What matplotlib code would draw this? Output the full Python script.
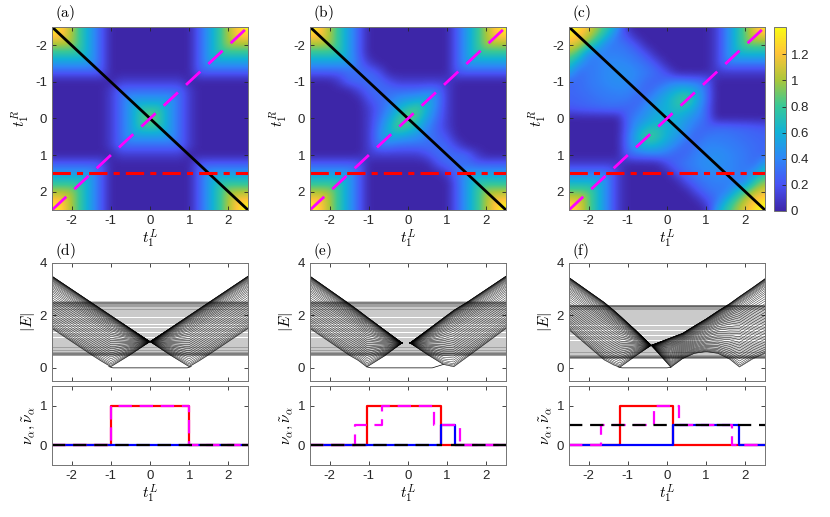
import numpy as np
import matplotlib
matplotlib.use('Agg')
import matplotlib.pyplot as plt
from matplotlib.colors import LinearSegmentedColormap

plt.rcParams['font.family'] = ['Liberation Sans', 'DejaVu Sans']
plt.rcParams['mathtext.fontset'] = 'cm'
plt.rcParams['axes.unicode_minus'] = False

# parula-like colour steps
parula_rgb = [(0.2422, 0.1504, 0.6603), (0.2810, 0.3228, 0.9579),
              (0.1786, 0.5289, 0.9682), (0.0689, 0.6948, 0.8394),
              (0.2161, 0.7843, 0.5923), (0.6720, 0.7793, 0.2227),
              (0.9970, 0.7659, 0.2199), (0.9769, 0.9839, 0.0805)]
parula = LinearSegmentedColormap.from_list('parula', parula_rgb)

# ---------------- data: gap maps (rows = t1R from -2.5 to 0, cols = t1L) ----------------
t_grid = [-2.5, -2.25, -2.0, -1.75, -1.5, -1.25, -1.0, -0.75, -0.5, -0.25, 0.0,
          0.25, 0.5, 0.75, 1.0, 1.25, 1.5, 1.75, 2.0, 2.25, 2.5]

gap_a_top = [
    [1.5, 1.25, 1.0, .75, .5, .25, 0, 0, 0, 0, 0, 0, 0, 0, 0, .25, .5, .75, 1.0, 1.25, 1.5],
    [1.25, 1.25, 1.0, .75, .5, .25, 0, 0, 0, 0, 0, 0, 0, 0, 0, .25, .5, .75, 1.0, 1.25, 1.25],
    [1.0, 1.0, 1.0, .75, .5, .25, 0, 0, 0, 0, 0, 0, 0, 0, 0, .25, .5, .75, 1.0, 1.0, 1.0],
    [.75, .75, .75, .75, .5, .25, 0, 0, 0, 0, 0, 0, 0, 0, 0, .25, .5, .75, .75, .75, .75],
    [.5, .5, .5, .5, .5, .25, 0, 0, 0, 0, 0, 0, 0, 0, 0, .25, .5, .5, .5, .5, .5],
    [.25, .25, .25, .25, .25, .25, 0, 0, 0, 0, 0, 0, 0, 0, 0, .25, .25, .25, .25, .25, .25],
    [0, 0, 0, 0, 0, 0, 0, .1, .1, .1, .1, .1, .1, .1, 0, 0, 0, 0, 0, 0, 0],
    [0, 0, 0, 0, 0, 0, .1, .3, .3, .3, .3, .3, .3, .3, .1, 0, 0, 0, 0, 0, 0],
    [0, 0, 0, 0, 0, 0, .1, .3, .5, .5, .5, .5, .5, .3, .1, 0, 0, 0, 0, 0, 0],
    [0, 0, 0, 0, 0, 0, .1, .3, .5, .75, .75, .75, .5, .3, .1, 0, 0, 0, 0, 0, 0],
    [0, 0, 0, 0, 0, 0, .1, .3, .5, .75, 1.0, .75, .5, .3, .1, 0, 0, 0, 0, 0, 0],
]

gap_b_top = [
    [1.5, 1.25, 1.0, .75, .5, .25, 0, 0, 0, 0, 0, 0, 0, 0, 0, .25, .5, .75, 1.0, 1.25, 1.5],
    [1.25, 1.25, 1.0, .75, .5, .25, 0, 0, 0, 0, 0, 0, 0, 0, 0, .25, .5, .75, 1.0, 1.25, 1.25],
    [1.0, 1.0, 1.0, .75, .5, .25, 0, 0, 0, 0, 0, 0, 0, 0, 0, .25, .5, .75, 1.0, 1.0, 1.0],
    [.75, .75, .75, .75, .5, .25, 0, 0, 0, 0, 0, 0, 0, 0, 0, .25, .5, .75, .75, .75, .75],
    [.5, .5, .5, .5, .5, .3, .1, 0, 0, 0, 0, 0, 0, 0, 0, .25, .5, .5, .5, .5, .5],
    [.25, .25, .25, .25, .3, .3, .3, .2, 0, 0, 0, 0, 0, 0, 0, .25, .25, .25, .25, .25, .25],
    [0, 0, 0, .1, .3, .3, .3, .3, .2, .1, .1, .1, .1, .1, .1, 0, 0, 0, 0, 0, 0],
    [0, 0, 0, 0, 0, .15, .28, .3, .3, .3, .3, .3, .35, .35, .1, 0, 0, 0, 0, 0, 0],
    [0, 0, 0, 0, 0, 0, .2, .28, .35, .45, .5, .55, .6, .4, .1, 0, 0, 0, 0, 0, 0],
    [0, 0, 0, 0, 0, 0, .1, .25, .4, .6, .75, .85, .6, .35, .1, 0, 0, 0, 0, 0, 0],
    [0, 0, 0, 0, 0, 0, .1, .3, .5, .75, .95, .75, .5, .3, .1, 0, 0, 0, 0, 0, 0],
]

gap_c_top = [
    [1.45, 1.35, 1.15, .95, .75, .5, 0, 0, 0, 0, 0, 0, 0, 0, 0, .1, .37, .63, .89, 1.16, 1.42],
    [1.35, 1.25, 1.05, .85, .6, .3, .18, 0, 0, 0, 0, 0, 0, 0, 0, .1, .37, .63, .89, 1.16, 1.16],
    [1.15, 1.05, .85, .6, .35, .35, .3, .18, 0, 0, 0, 0, 0, 0, 0, .1, .37, .63, .89, .89, .89],
    [.95, .8, .4, .38, .38, .38, .35, .3, .18, 0, 0, 0, 0, 0, 0, .1, .37, .63, .63, .63, .63],
    [.75, .5, .35, .38, .42, .42, .4, .35, .3, .18, 0, 0, 0, 0, 0, .1, .37, .37, .37, .37, .37],
    [.55, .3, .35, .38, .42, .45, .45, .4, .35, .3, .18, 0, 0, 0, 0, .1, .1, .1, .1, .1, .1],
    [.28, .3, .35, .38, .42, .45, .42, .38, .3, .25, .32, .38, .35, .33, .28, 0, 0, 0, 0, 0, 0],
    [.28, .3, .33, .36, .38, .4, .4, .35, .25, .38, .5, .6, .65, .55, .33, 0, 0, 0, 0, 0, 0],
    [.27, .28, .3, .33, .35, .35, .35, .25, .38, .5, .6, .75, .85, .6, .33, 0, 0, 0, 0, 0, 0],
    [.22, .25, .27, .28, .3, .3, .25, .33, .45, .55, .6, .7, .65, .5, .28, 0, 0, 0, 0, 0, 0],
    [0, 0, 0, 0, 0, 0, .3, .4, .5, .6, .6, .6, .5, .4, .3, 0, 0, 0, 0, 0, 0],
]

cbar_ticks = [0, 0.2, 0.4, 0.6, 0.8, 1.0, 1.2]
cbar_labels = ['0', '0.2', '0.4', '0.6', '0.8', '1', '1.2']
gap_max = 1.41

line_t = [-2.5, 2.5]
cut_t1R = 1.5

# ---------------- data: spectra ----------------
flat_frac = [0.0, 0.004, 0.012, 0.025, 0.043, 0.065, 0.09, 0.12, 0.155, 0.19, 0.23,
             0.27, 0.31, 0.355, 0.4, 0.45, 0.5, 0.55, 0.6, 0.645, 0.69, 0.73, 0.77,
             0.81, 0.845, 0.88, 0.91, 0.935, 0.957, 0.975, 0.988, 0.996, 1.0]
fan_frac = [0.0, 0.01, 0.03, 0.055, 0.085, 0.12, 0.155, 0.19, 0.23, 0.27, 0.31, 0.35,
            0.39, 0.43, 0.47, 0.51, 0.55, 0.59, 0.63, 0.665, 0.70, 0.73, 0.76, 0.79,
            0.815, 0.84, 0.865, 0.885, 0.905, 0.92, 0.935, 0.95, 0.96, 0.97, 0.978,
            0.985, 0.991, 0.995, 0.998, 1.0]

# (d)
flat_d = (0.5, 2.5)
fanL_d_t = [-2.5, -1.5, -1.25, -1.0, -0.75, -0.5, 0.0]
fanL_d_lo = [1.5, 0.5, 0.26, 0.04, 0.27, 0.5, 1.0]
fanL_d_hi = [3.5, 2.5, 2.25, 2.0, 1.75, 1.5, 1.0]
fanR_d_t = [0.0, 0.5, 0.75, 1.0, 1.25, 1.5, 2.5]
fanR_d_lo = [1.0, 0.5, 0.27, 0.04, 0.26, 0.5, 1.5]
fanR_d_hi = [1.0, 1.5, 1.75, 2.0, 2.25, 2.5, 3.5]
edge_d_t = [-1.05, -0.95, 0.95, 1.05]
edge_d_e = [0.05, 0.0, 0.0, 0.05]

# (e)
flat_e = (0.5, 2.5)
fanL_e_t = [-2.5, -1.5, -1.27, -1.05, -0.6, -0.15]
fanL_e_lo = [1.5, 0.48, 0.28, 0.03, 0.45, 0.95]
fanL_e_hi = [3.5, 2.45, 2.2, 1.95, 1.45, 0.95]
fanR_e_t = [0.05, 0.5, 0.9, 1.17, 1.5, 2.5]
fanR_e_lo = [0.95, 0.5, 0.13, 0.04, 0.4, 1.5]
fanR_e_hi = [0.95, 1.45, 1.9, 2.2, 2.5, 3.5]
edge_e_t = [-1.05, -0.95, 0.62, 0.75, 0.9]
edge_e_e = [0.04, 0.0, 0.0, 0.06, 0.13]

# (f)
flat_f = (0.38, 2.37)
fanL_f_t = [-2.5, -1.6, -1.35, -1.2, -0.8, -0.4]
fanL_f_lo = [1.45, 0.3, 0.1, 0.02, 0.45, 0.86]
fanL_f_hi = [3.45, 2.5, 2.19, 1.99, 1.44, 0.86]
fanR_f_t = [-0.4, 0.1, 0.4, 0.7, 1.0, 1.3, 1.6, 1.85, 2.2, 2.5]
fanR_f_lo = [0.86, 0.02, 0.35, 0.55, 0.62, 0.55, 0.33, 0.03, 0.35, 0.55]
fanR_f_hi = [0.86, 1.15, 1.32, 1.6, 1.87, 2.17, 2.45, 2.72, 3.08, 3.4]
edge_f_t = [-1.25, -1.15, 0.0, 0.1]
edge_f_e = [0.04, 0.0, 0.0, 0.02]

# ---------------- data: winding numbers ----------------
nu_d = {
    'red': ([-2.5, -1, -1, 1, 1, 2.5], [0, 0, 1, 1, 0, 0]),
    'blue': ([-2.5, 2.5], [0, 0]),
    'mag': ([-2.5, -1, -1, 1, 1, 2.5], [0, 0, 1, 1, 0, 0]),
    'black': ([-2.5, 2.5], [0, 0]),
}
nu_e = {
    'red': ([-2.5, -1.05, -1.05, 0.83, 0.83, 2.5], [0, 0, 1, 1, 0, 0]),
    'blue': ([-2.5, 0.83, 0.83, 1.2, 1.2, 2.5], [0, 0, 0.5, 0.5, 0, 0]),
    'mag': ([-2.5, -1.34, -1.34, -0.66, -0.66, 0.66, 0.66, 1.32, 1.32, 2.5],
            [0, 0, 0.5, 0.5, 1, 1, 0.5, 0.5, 0, 0]),
    'black': ([-2.5, 0.87, np.nan, 1.1, 2.5], [0, 0, np.nan, 0, 0]),
}
nu_f = {
    'red': ([-2.5, -1.2, -1.2, 0.16, 0.16, 2.5], [0, 0, 1, 1, 0, 0]),
    'blue': ([-2.5, 0.16, 0.16, 1.84, 1.84, 2.5], [0, 0, 0.5, 0.5, 0, 0]),
    'mag': ([-2.5, -1.69, -1.69, -0.33, -0.33, 0.32, 0.32, 1.67, 1.67, 2.5],
            [0, 0, 0.5, 0.5, 1, 1, 0.5, 0.5, 0, 0]),
    'black': ([-2.5, 2.5], [0.5, 0.5]),
}

# ---------------- figure ----------------
fig = plt.figure(figsize=(8.3, 5.17), dpi=100)

lefts = [0.0627, 0.3735, 0.6855]
width = 0.2361
tick_fs = 9.5
lab_fs = 11
frame_col = '0.45'


def style(ax):
    ax.tick_params(direction='in', top=True, right=True, length=3, width=0.6,
                   labelsize=tick_fs, colors='0.15')
    for s in ax.spines.values():
        s.set_color(frame_col)
        s.set_linewidth(0.7)


def full_map(top):
    top = np.array(top, dtype=float)
    return np.vstack([top, top[-2::-1, ::-1]])


step = t_grid[1] - t_grid[0]
ext = [t_grid[0] - step / 2, t_grid[-1] + step / 2, t_grid[-1] + step / 2, t_grid[0] - step / 2]

maps = [gap_a_top, gap_b_top, gap_c_top]
names = ['(a)', '(b)', '(c)']
im = None
for k in range(3):
    ax = fig.add_axes([lefts[k], 0.5938, width, 0.354])
    im = ax.imshow(full_map(maps[k]), extent=ext, origin='upper', cmap=parula,
                   vmin=0, vmax=gap_max, interpolation='bicubic',
                   interpolation_stage='data', aspect='auto')
    ax.plot(line_t, line_t, color='k', lw=2)
    ax.plot(line_t, [-v for v in line_t], color=(1, 0, 1), lw=2, dashes=(7, 4))
    ax.plot(line_t, [cut_t1R, cut_t1R], color=(1, 0, 0), lw=2.2, dashes=(6, 2, 2, 2))
    ax.set_xlim(-2.5, 2.5)
    ax.set_ylim(2.5, -2.5)
    ax.set_xticks([-2, -1, 0, 1, 2])
    ax.set_yticks([-2, -1, 0, 1, 2])
    style(ax)
    ax.set_xlabel(r'$t_1^L$', fontsize=lab_fs, labelpad=1)
    ax.set_ylabel(r'$t_1^R$', fontsize=lab_fs, labelpad=2)
    ax.text(0.015, 1.02, r'$\mathrm{' + names[k] + '}$', transform=ax.transAxes,
            fontsize=lab_fs, ha='left', va='bottom')

cax = fig.add_axes([0.9325, 0.5919, 0.0145, 0.3559])
cb = fig.colorbar(im, cax=cax, ticks=cbar_ticks)
cb.ax.set_yticklabels(cbar_labels)
cb.ax.tick_params(direction='in', length=3, width=0.6, labelsize=tick_fs, colors='0.15')
cb.outline.set_edgecolor(frame_col)
cb.outline.set_linewidth(0.7)

spectra = [
    (flat_d, [(fanL_d_t, fanL_d_lo, fanL_d_hi), (fanR_d_t, fanR_d_lo, fanR_d_hi)], edge_d_t, edge_d_e),
    (flat_e, [(fanL_e_t, fanL_e_lo, fanL_e_hi), (fanR_e_t, fanR_e_lo, fanR_e_hi)], edge_e_t, edge_e_e),
    (flat_f, [(fanL_f_t, fanL_f_lo, fanL_f_hi), (fanR_f_t, fanR_f_lo, fanR_f_hi)], edge_f_t, edge_f_e),
]
nus = [nu_d, nu_e, nu_f]
names2 = ['(d)', '(e)', '(f)']

for k in range(3):
    ax = fig.add_axes([lefts[k], 0.2631, width, 0.2282])
    (flo, fhi), fans, et, ee = spectra[k]
    levels = flo + (fhi - flo) * np.array(flat_frac)
    ax.hlines(levels, -2.5, 2.5, color='k', lw=0.3)
    for t, lo, hi in fans:
        t, lo, hi = np.array(t), np.array(lo), np.array(hi)
        for f in fan_frac:
            ax.plot(t, lo + f * (hi - lo), color='k', lw=0.3)
    ax.plot(et, ee, color='k', lw=0.5)
    ax.set_xlim(-2.5, 2.5)
    ax.set_ylim(-0.5, 4)
    ax.set_xticks([-2, -1, 0, 1, 2])
    ax.set_xticklabels([])
    ax.set_yticks([0, 2, 4])
    style(ax)
    ax.set_ylabel(r'$|E|$', fontsize=lab_fs, labelpad=2)
    ax.text(0.015, 1.02, r'$\mathrm{' + names2[k] + '}$', transform=ax.transAxes,
            fontsize=lab_fs, ha='left', va='bottom')

    ax2 = fig.add_axes([lefts[k], 0.1006, width, 0.1528])
    nu = nus[k]
    ax2.plot(*nu['red'], color=(1, 0, 0), lw=1.6)
    ax2.plot(*nu['blue'], color=(0, 0, 1), lw=1.6)
    ax2.plot(*nu['mag'], color=(1, 0, 1), lw=1.6, dashes=(6, 3.5))
    ax2.plot(*nu['black'], color='k', lw=1.6, dashes=(6, 3.5))
    ax2.set_xlim(-2.5, 2.5)
    ax2.set_ylim(-0.5, 1.5)
    ax2.set_xticks([-2, -1, 0, 1, 2])
    ax2.set_yticks([0, 1])
    style(ax2)
    ax2.set_xlabel(r'$t_1^L$', fontsize=lab_fs, labelpad=1)
    ax2.set_ylabel(r'$\nu_\alpha, \tilde{\nu}_\alpha$', fontsize=lab_fs, labelpad=2)

fig.savefig('out.png', dpi=100)
